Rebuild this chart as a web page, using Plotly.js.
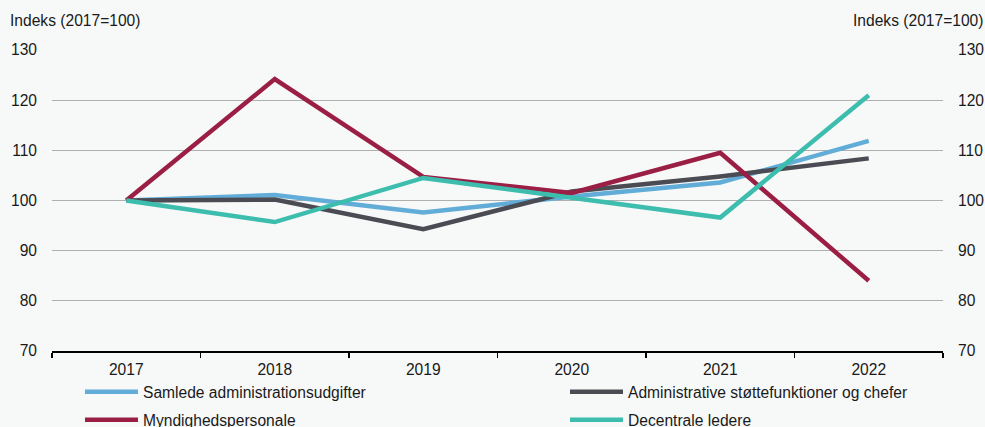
<!DOCTYPE html>
<html>
<head>
<meta charset="utf-8">
<script src="https://cdn.plot.ly/plotly-3.0.1.min.js"></script>
<style>html,body{margin:0;padding:0;background:#f7f9f9;}#chart{width:985px;height:427px;}</style>
</head>
<body>
<div id="chart"></div>
<script>
const years = ['2017', '2018', '2019', '2020', '2021', '2022'];
const samlede = [100, 101.1, 97.6, 100.8, 103.6, 111.9];
const administrative = [100, 100.2, 94.3, 101.8, 104.8, 108.4];
const myndighed = [100, 124.2, 104.7, 101.5, 109.5, 84.0];
const decentrale = [100, 95.7, 104.5, 100.5, 96.6, 121.0];
const names = ['Samlede administrationsudgifter', 'Administrative støttefunktioner og chefer', 'Myndighedspersonale', 'Decentrale ledere'];
const colors = ['#62acd8', '#4b4c53', '#9b1f45', '#3dbdad'];
const yTitle = 'Indeks (2017=100)';

const series = [samlede, administrative, myndighed, decentrale];
const legendIds = ['legend', 'legend2', 'legend3', 'legend4'];
const traces = series.map((s, i) => ({
  x: years, y: s, name: names[i], type: 'scatter', mode: 'lines',
  line: {color: colors[i], width: 4.5},
  legend: legendIds[i]
}));
// invisible trace to drive the right axis
traces.push({x: years, y: samlede, yaxis: 'y2', mode: 'lines', line: {width: 0}, showlegend: false, hoverinfo: 'skip', opacity: 0});

const font = {family: 'Liberation Sans, Arial, sans-serif', size: 15.6, color: '#1a1a1a'};
function leg(x, y) {
  return {orientation: 'h', xref: 'container', yref: 'container', x: x, y: y, xanchor: 'left', yanchor: 'middle',
          bgcolor: 'rgba(0,0,0,0)', font: font, borderwidth: 0, itemwidth: 53};
}
const layout = {
  width: 985, height: 427,
  margin: {l: 52, r: 42, t: 50, b: 76},
  paper_bgcolor: '#f7f9f9', plot_bgcolor: '#f7f9f9',
  font: font,
  showlegend: true,
  xaxis: {type: 'category', range: [-0.5, 5.5], tickson: 'boundaries', ticks: 'outside', ticklen: 5, tickcolor: '#000', tickwidth: 1.5,
          showline: true, linecolor: '#000', linewidth: 2, showgrid: false, zeroline: false, fixedrange: true,
          ticklabelstandoff: 3, tickfont: font},
  yaxis: {range: [70, 130], dtick: 10, showgrid: true, gridcolor: '#b0b0b0', gridwidth: 1, zeroline: false,
          showline: false, ticks: '', ticklabelstandoff: 14, tickfont: font},
  yaxis2: {range: [70, 130], dtick: 10, overlaying: 'y', side: 'right', showgrid: false, zeroline: false,
           showline: false, ticks: '', ticklabelstandoff: 14, tickfont: font},
  legend: leg(0.0812, 0.082),
  legend2: leg(0.5736, 0.082),
  legend3: leg(0.0812, 0.0164),
  legend4: leg(0.5736, 0.0164),
  annotations: [
    {text: yTitle, xref: 'paper', yref: 'paper', x: -0.0494, y: 1.0, yshift: 30, xanchor: 'left', yanchor: 'middle', showarrow: false, font: font},
    {text: yTitle, xref: 'paper', yref: 'paper', x: 1.047, y: 1.0, yshift: 30, xanchor: 'right', yanchor: 'middle', showarrow: false, font: font}
  ]
};
Plotly.newPlot('chart', traces, layout, {displayModeBar: false, staticPlot: true});
</script>
</body>
</html>
